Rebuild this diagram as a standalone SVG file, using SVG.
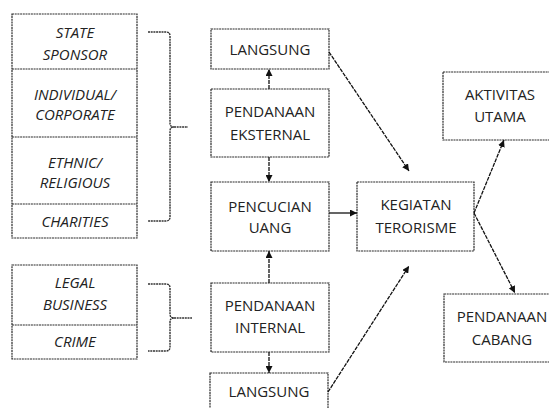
<svg xmlns="http://www.w3.org/2000/svg" width="549" height="408" viewBox="0 0 549 408">
<style>
.box{fill:#fff;stroke:#2a2a2a;stroke-width:1.2;stroke-dasharray:2 0.7}
.t{font-family:"Open Sans","Liberation Sans",sans-serif;font-size:15px;fill:#222;text-anchor:middle}
.i{font-style:italic}
.c{fill:none;stroke:#111;stroke-width:1.3;stroke-dasharray:4 1}
.br{fill:none;stroke:#333;stroke-width:1.4;stroke-dasharray:2 0.7}
</style>
<defs>
<marker id="ah" viewBox="0 0 10 10" refX="10" refY="5" markerWidth="7" markerHeight="7" orient="auto" markerUnits="userSpaceOnUse">
<path d="M0,0 L10,5 L0,10 z" fill="#111"/>
</marker>
</defs>
<g id="sources-external">
<rect class="box" x="12" y="14" width="125" height="224"/>
<line class="box" x1="12" y1="69" x2="137" y2="69"/>
<line class="box" x1="12" y1="137" x2="137" y2="137"/>
<line class="box" x1="12" y1="204" x2="137" y2="204"/>
<text class="t i" x="75" y="38">STATE</text>
<text class="t i" x="75" y="60">SPONSOR</text>
<text class="t i" x="75" y="100">INDIVIDUAL/</text>
<text class="t i" x="75" y="120">CORPORATE</text>
<text class="t i" x="75" y="168">ETHNIC/</text>
<text class="t i" x="75" y="188">RELIGIOUS</text>
<text class="t i" x="75" y="227">CHARITIES</text>
</g>
<g id="sources-internal">
<rect class="box" x="12" y="265" width="125" height="94"/>
<line class="box" x1="12" y1="325" x2="137" y2="325"/>
<text class="t i" x="75" y="288">LEGAL</text>
<text class="t i" x="75" y="310">BUSINESS</text>
<text class="t i" x="75" y="347">CRIME</text>
</g>
<g id="brace-external">
<path class="br" d="M148,32 L166,32 Q170,32 170,36 L170,123 Q170,127 174,127 Q170,127 170,131 L170,217 Q170,221 166,221 L148,221 M174,127 L188,127"/>
</g>
<g id="brace-internal">
<path class="br" d="M148,284 L166,284 Q170,284 170,288 L170,314 Q170,318 174,318 Q170,318 170,322 L170,347 Q170,351 166,351 L148,351 M174,318 L192,318"/>
</g>
<g id="langsung-top">
<rect class="box" x="211" y="29" width="118" height="40"/>
<text class="t" x="270" y="55">LANGSUNG</text>
</g>
<g id="pendanaan-eksternal">
<rect class="box" x="211" y="89" width="118" height="68"/>
<text class="t" x="270" y="117">PENDANAAN</text>
<text class="t" x="270" y="140">EKSTERNAL</text>
</g>
<g id="pencucian-uang">
<rect class="box" x="211" y="182" width="118" height="69"/>
<text class="t" x="270" y="212">PENCUCIAN</text>
<text class="t" x="270" y="233">UANG</text>
</g>
<g id="pendanaan-internal">
<rect class="box" x="211" y="283" width="118" height="69"/>
<text class="t" x="270" y="311">PENDANAAN</text>
<text class="t" x="270" y="333">INTERNAL</text>
</g>
<g id="langsung-bottom">
<rect class="box" x="210" y="373" width="118" height="45"/>
<text class="t" x="269" y="397">LANGSUNG</text>
</g>
<g id="kegiatan-terorisme">
<rect class="box" x="357" y="182" width="117" height="69"/>
<text class="t" x="416" y="210">KEGIATAN</text>
<text class="t" x="416" y="233">TERORISME</text>
</g>
<g id="aktivitas-utama">
<rect class="box" x="443" y="72" width="114" height="68"/>
<text class="t" x="500" y="100">AKTIVITAS</text>
<text class="t" x="500" y="122">UTAMA</text>
</g>
<g id="pendanaan-cabang">
<rect class="box" x="444" y="294" width="116" height="68"/>
<text class="t" x="502" y="322">PENDANAAN</text>
<text class="t" x="502" y="345">CABANG</text>
</g>
<g id="connectors">
<line class="c" x1="269" y1="89" x2="269" y2="69" marker-end="url(#ah)"/>
<line class="c" x1="269" y1="157" x2="269" y2="182" marker-end="url(#ah)"/>
<line class="c" x1="269" y1="283" x2="269" y2="251" marker-end="url(#ah)"/>
<line class="c" x1="269" y1="352" x2="269" y2="373" marker-end="url(#ah)"/>
<line class="c" x1="329" y1="213" x2="357" y2="213" marker-end="url(#ah)" style="stroke-dasharray:none"/>
<line class="c" x1="329" y1="52" x2="409" y2="171" marker-end="url(#ah)"/>
<line class="c" x1="328" y1="392" x2="409" y2="266" marker-end="url(#ah)"/>
<line class="c" x1="474" y1="213" x2="504" y2="140" marker-end="url(#ah)"/>
<line class="c" x1="474" y1="213" x2="515" y2="293" marker-end="url(#ah)"/>
</g>
</svg>
